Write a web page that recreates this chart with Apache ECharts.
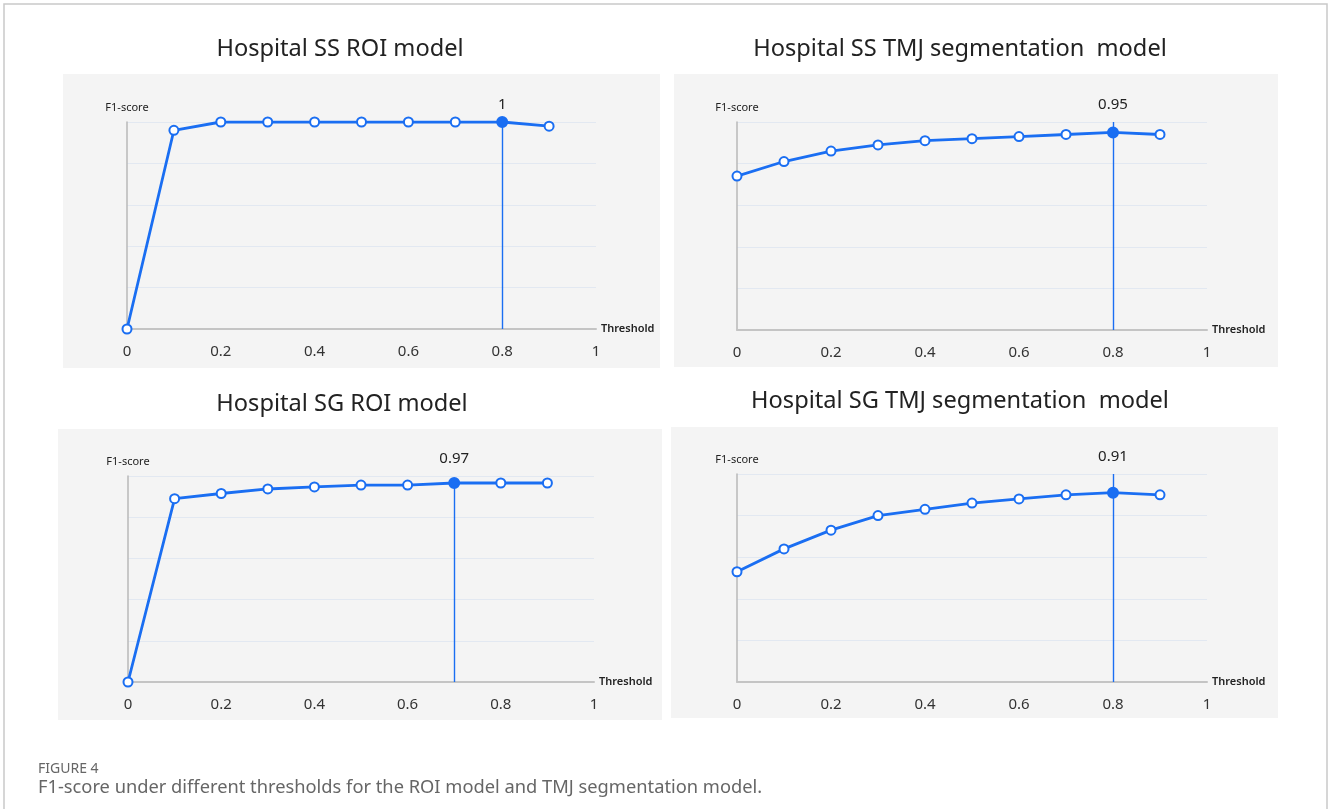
<!DOCTYPE html>
<html>
<head>
<meta charset="utf-8">
<script src="https://cdn.jsdelivr.net/npm/echarts@6/dist/echarts.min.js"></script>
<style>
html,body{margin:0;padding:0;background:#fff;}
#chart{width:1328px;height:809px;}
</style>
</head>
<body>
<div id="chart"></div>
<script>
// ---- data ----
const thresholds = [0, 0.1, 0.2, 0.3, 0.4, 0.5, 0.6, 0.7, 0.8, 0.9];
const ssRoi = [0, 0.96, 1, 1, 1, 1, 1, 1, 1, 0.98];
const ssTmj = [0.74, 0.81, 0.86, 0.89, 0.91, 0.92, 0.93, 0.94, 0.95, 0.94];
const sgRoi = [0, 0.89, 0.915, 0.937, 0.947, 0.956, 0.956, 0.966, 0.966, 0.966];
const sgTmj = [0.53, 0.64, 0.73, 0.80, 0.83, 0.86, 0.88, 0.90, 0.91, 0.90];
const panelTitles = ['Hospital SS ROI model', 'Hospital SS TMJ segmentation  model',
                     'Hospital SG ROI model', 'Hospital SG TMJ segmentation  model'];
const bestThreshold = [0.8, 0.8, 0.7, 0.8];
const bestLabels = ['1', '0.95', '0.97', '0.91'];
const lineToTop = [false, true, false, true];
const xAxisName = 'Threshold';
const yAxisName = 'F1-score';
const captionHead = 'FIGURE 4';
const captionText = 'F1-score under different thresholds for the ROI model and TMJ segmentation model.';

const seriesValues = [ssRoi, ssTmj, sgRoi, sgTmj];

// ---- layout ----
const grids = [
  {left: 127, top: 122, width: 469, height: 207},
  {left: 737, top: 122, width: 470, height: 208},
  {left: 128, top: 476, width: 466, height: 206},
  {left: 737, top: 474, width: 470, height: 208}
];
const panels = [
  {x: 63, y: 74, w: 597, h: 294},
  {x: 674, y: 74, w: 604, h: 293},
  {x: 58, y: 429, w: 604, h: 291},
  {x: 671, y: 427, w: 607, h: 291}
];
const titlePos = [
  {x: 335, y: 49}, {x: 955, y: 49}, {x: 337, y: 404}, {x: 955, y: 401}
];

const BLUE = '#1a6ef2';
const FONT = '"Noto Sans", sans-serif';

const option = {
  animation: false,
  backgroundColor: '#ffffff',
  textStyle: {fontFamily: FONT},
  title: panelTitles.map((t, i) => ({
    text: t,
    left: titlePos[i].x,
    top: titlePos[i].y - 17,
    textAlign: 'center',
    textStyle: {fontFamily: FONT, fontSize: 23.6, fontWeight: 'normal', color: '#222'}
  })),
  graphic: {
    elements: [
      {type: 'rect', z: -100, shape: {x: 4, y: 4, width: 1323, height: 830},
       style: {fill: 'none', stroke: '#c9c9c9', lineWidth: 1.5}},
      ...panels.map(p => ({type: 'rect', z: -100, shape: {x: p.x, y: p.y, width: p.w, height: p.h},
        style: {fill: '#f4f4f4'}})),
      {type: 'text', left: 38, top: 762, style: {text: captionHead, fill: '#666', font: '14px ' + FONT}},
      {type: 'text', left: 38, top: 779, style: {text: captionText, fill: '#666', font: '18.3px ' + FONT}}
    ]
  },
  grid: grids.map(g => Object.assign({containLabel: false}, g)),
  xAxis: grids.map((g, i) => ({
    type: 'value', gridIndex: i, min: 0, max: 1, interval: 0.2,
    name: xAxisName, nameLocation: 'end', nameGap: 5,
    nameTextStyle: {fontSize: 11, color: '#222', fontWeight: 600, fontFamily: FONT},
    axisLine: {show: true, onZero: false, lineStyle: {color: '#c4c4c4', width: 2}},
    axisTick: {show: false},
    splitLine: {show: false},
    axisLabel: {fontSize: 15, color: '#333', margin: 15, fontFamily: FONT}
  })),
  yAxis: grids.map((g, i) => ({
    type: 'value', gridIndex: i, min: 0, max: 1, interval: 0.2,
    name: yAxisName, nameLocation: 'end', nameGap: 9,
    nameTextStyle: {fontSize: 11, color: '#222', fontFamily: FONT, align: 'center'},
    axisLine: {show: true, lineStyle: {color: '#b8b8b8', width: 1.5}},
    axisTick: {show: false},
    axisLabel: {show: false},
    splitLine: {show: true, lineStyle: {color: '#e2e8f1', width: 1}}
  })),
  series: seriesValues.map((vals, i) => {
    const bi = thresholds.indexOf(bestThreshold[i]);
    const bestVal = vals[bi];
    return {
      type: 'line', xAxisIndex: i, yAxisIndex: i,
      data: thresholds.map((t, k) => k === bi
        ? {value: [t, vals[k]], symbolSize: 10, itemStyle: {color: BLUE, borderColor: BLUE}}
        : [t, vals[k]]),
      symbol: 'circle', symbolSize: 9,
      lineStyle: {color: BLUE, width: 2.8},
      itemStyle: {color: '#ffffff', borderColor: BLUE, borderWidth: 2},
      z: 5,
      markLine: {
        silent: true, symbol: ['none', 'none'],
        lineStyle: {color: BLUE, width: 1.4, type: 'solid'},
        label: {show: false},
        data: [[{coord: [bestThreshold[i], 0]}, {coord: [bestThreshold[i], lineToTop[i] ? 1 : bestVal]}]]
      },
      markPoint: {
        silent: true, symbol: 'circle', symbolSize: 0,
        label: {show: true, position: 'top', distance: 10, fontSize: 15, color: '#222',
                fontFamily: FONT, formatter: () => bestLabels[i]},
        data: [{coord: [bestThreshold[i], 1]}]
      }
    };
  })
};

const chart = echarts.init(document.getElementById('chart'), null, {renderer: 'canvas'});
chart.setOption(option);
</script>
</body>
</html>
